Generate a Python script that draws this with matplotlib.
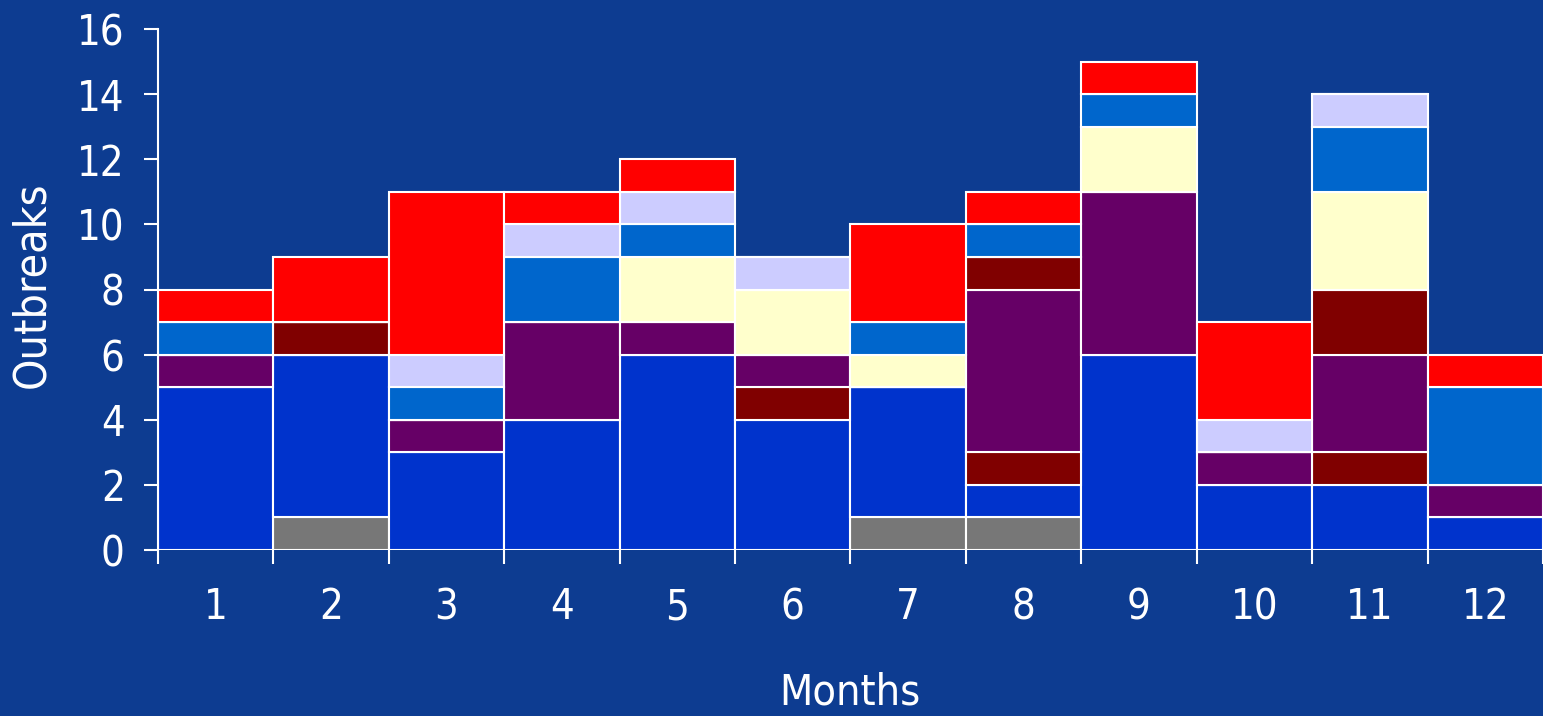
import numpy as np
import matplotlib
matplotlib.use("Agg")
import matplotlib.pyplot as plt

# outbreaks per month, one list per category (bottom to top of each stack)
months = ["1", "2", "3", "4", "5", "6", "7", "8", "9", "10", "11", "12"]
gray = [0, 1, 0, 0, 0, 0, 1, 1, 0, 0, 0, 0]
blue = [5, 5, 3, 4, 6, 4, 4, 1, 6, 2, 2, 1]
darkred_a = [0, 0, 0, 0, 0, 1, 0, 1, 0, 0, 1, 0]
purple = [1, 0, 1, 3, 1, 1, 0, 5, 5, 1, 3, 1]
darkred_b = [0, 1, 0, 0, 0, 0, 0, 1, 0, 0, 2, 0]
yellow = [0, 0, 0, 0, 2, 2, 1, 0, 2, 0, 3, 0]
midblue = [1, 0, 1, 2, 1, 0, 1, 1, 1, 0, 2, 3]
lavender = [0, 0, 1, 1, 1, 1, 0, 0, 0, 1, 1, 0]
red = [1, 2, 5, 1, 1, 0, 3, 1, 1, 3, 0, 1]

series = [gray, blue, darkred_a, purple, darkred_b, yellow, midblue, lavender, red]
colors = ["#777777", "#0033cc", "#800000", "#660066", "#800000",
          "#ffffcc", "#0066cc", "#ccccff", "#ff0000"]

bg = "#0d3c91"
plt.rcParams['font.family'] = ['DejaVu Sans']
plt.rcParams['font.stretch'] = 'condensed'

fig = plt.figure(figsize=(15.43, 7.16), dpi=100, facecolor=bg)
ax = fig.add_axes([158 / 1543, 1 - 550 / 716, 1 - 158 / 1543, (550 - 29) / 716])
ax.set_facecolor(bg)

x = np.arange(1, len(months) + 1)
bottom = np.zeros(len(months))
for vals, c in zip(series, colors):
    v = np.array(vals, dtype=float)
    ax.bar(x, v, width=1.0, bottom=bottom, color=c, edgecolor="white",
           linewidth=1.5)
    bottom += v

ax.set_xlim(0.5, 12.5)
ax.set_ylim(0, 16)
ax.set_yticks(range(0, 17, 2))

# boundary ticks without labels, month labels centred under bars
ax.set_xticks(np.arange(0.5, 13.0, 1.0))
ax.set_xticklabels([])
ax.set_xticks(x, minor=True)
ax.set_xticklabels(months, minor=True)
ax.tick_params(axis='x', which='major', length=10, width=1.5, colors="white")
ax.tick_params(axis='x', which='minor', length=0, pad=26, labelsize=30,
               labelcolor="white")
ax.tick_params(axis='y', length=10, width=1.5, colors="white", pad=14,
               labelsize=30)

for s in ["top", "right", "bottom"]:
    ax.spines[s].set_visible(False)
ax.spines["left"].set_color("white")
ax.spines["left"].set_linewidth(1.5)

fig.text(32 / 1543, 1 - 285 / 716, "Outbreaks", rotation=90, color="white",
         fontsize=32, ha="center", va="center")
fig.text(850 / 1543, 0.004, "Months", color="white",
         fontsize=31, ha="center", va="bottom")

fig.savefig("out.png", dpi=100, facecolor=bg)
